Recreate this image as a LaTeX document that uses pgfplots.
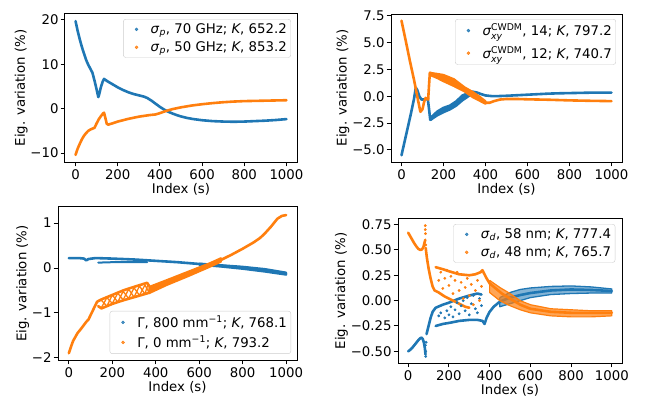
\documentclass[border=0pt]{standalone}
\usepackage{fontspec}
\setmainfont{DejaVu Sans}
\usepackage{pgfplots}
\pgfplotsset{compat=1.18}
\definecolor{tabblue}{HTML}{1F77B4}
\definecolor{taborange}{HTML}{FF7F0E}
\newcommand{\fs}{\fontsize{13.3}{15.5}\selectfont}
\newcommand{\scfs}{\fontsize{9.3}{10}\selectfont}
\newcommand{\cwdm}{$\textit{σ}^{\mbox{\scfs CWDM}}_{\mbox{\scfs\itshape xy}}$}
\pgfplotsset{
  panel/.style={
    scale only axis, xmin=-50, xmax=1050,
    xtick={0,200,400,600,800,1000},
    xticklabels={0,200,400,600,800,1000},
    tick align=outside, tick pos=left,
    major tick length=4.4pt,
    every tick/.style={black, line width=1pt},
    axis line style={line width=1pt},
    tick label style={font=\fs},
    yticklabel style={xshift=1.5pt},
    label style={font=\fs},
    xlabel={Index (s)}, ylabel={Eig. variation (\%)},
    xlabel style={yshift=3pt},
    ylabel style={yshift=-4pt},
    legend cell align=left,
    legend style={font=\fs, draw=black!20, rounded corners=2.5pt, fill=white, fill opacity=0.8, text opacity=1,
      inner xsep=2pt, inner ysep=2.5pt, row sep=2.5pt},
  },
  cur/.style={no marks, line width=2.6pt, line join=round, line cap=round},
  thin/.style={no marks, line width=1.3pt, line join=round, line cap=round},
  band/.style={no marks, line width=2pt, line join=round},
  dots/.style={only marks, mark=*, mark size=1.2pt},
  bimg/.style={legend image code/.code={\path (-3pt,0) (20pt,0); \fill[tabblue] (8pt,0) circle (1.5pt);}},
  oimg/.style={legend image code/.code={\path (-3pt,0) (20pt,0); \fill[taborange] (8pt,0) circle (1.5pt);}},
}
\begin{document}
\begin{tikzpicture}
\useasboundingbox (0,0) rectangle (646pt,397pt);
% ---------------- top left
\begin{axis}[panel, at={(65pt,235pt)}, anchor=south west, width=232pt, height=148pt,
  ymin=-12, ymax=21.3, ytick={-10,0,10,20}, yticklabels={−10,0,10,20},
  legend style={at={(0.974,0.966)}, anchor=north east}]
\addlegendimage{bimg}\addlegendentry{\textit{σ}\textsubscript{\textit{p}}, 70 GHz; \textit{K}, 652.2}
\addlegendimage{oimg}\addlegendentry{\textit{σ}\textsubscript{\textit{p}}, 50 GHz; \textit{K}, 853.2}
\addplot[cur, tabblue] coordinates {(0,19.7)(10,17.5)(20,15.6)(30,13.9)(40,12.4)(50,11.0)(60,9.9)(70,9.0)(80,8.1)(90,6.3)(100,4.3)(108,2.6)(112,3.2)(120,4.8)(128,6.0)(135,6.7)(150,6.2)(175,5.5)(200,4.8)(225,4.2)(250,3.7)(275,3.3)(300,3.0)(325,2.7)(340,2.4)(360,1.8)(380,1.1)(400,0.4)(420,-0.2)(440,-0.7)(460,-1.1)(480,-1.45)(500,-1.75)(530,-2.1)(560,-2.35)(600,-2.6)(650,-2.8)(700,-2.9)(750,-2.95)(800,-2.9)(850,-2.8)(900,-2.7)(950,-2.55)(1000,-2.35)};
\addplot[cur, taborange] coordinates {(0,-10.4)(10,-9.0)(20,-7.9)(30,-6.9)(40,-6.1)(50,-5.5)(60,-5.0)(70,-4.7)(80,-4.5)(90,-4.3)(100,-3.3)(110,-2.4)(120,-1.7)(130,-1.1)(135,-0.9)(140,-1.8)(148,-3.4)(155,-3.6)(175,-3.3)(200,-2.9)(250,-2.3)(300,-1.8)(350,-1.45)(380,-1.3)(400,-1.0)(430,-0.5)(460,-0.1)(500,0.3)(550,0.7)(600,1.0)(650,1.25)(700,1.45)(750,1.6)(800,1.7)(850,1.75)(900,1.8)(950,1.85)(1000,1.9)};
\end{axis}
% ---------------- top right
\begin{axis}[panel, at={(391pt,235pt)}, anchor=south west, width=231pt, height=148pt,
  ymin=-6.13, ymax=7.68, ytick={-5,-2.5,0,2.5,5,7.5}, yticklabels={−5.0,−2.5,0.0,2.5,5.0,7.5},
  legend style={at={(0.974,0.966)}, anchor=north east, row sep=5pt}]
\addlegendimage{bimg}\addlegendentry{\cwdm, 14; \textit{K}, 797.2}
\addlegendimage{oimg}\addlegendentry{\cwdm, 12; \textit{K}, 740.7}
\addplot[cur, tabblue] coordinates {(0,-5.5)(15,-4.2)(30,-2.9)(45,-1.6)(60,-0.2)(68,0.8)(75,0.6)(85,0.0)(95,-0.3)(110,-0.3)(125,-0.2)(130,-1.0)(137,-2.2)(150,-1.95)(175,-1.6)(200,-1.25)(230,-0.95)(260,-0.6)(290,-0.15)(320,0.3)(340,0.42)(360,0.35)(380,0.2)(400,0.08)(430,0.02)(460,0.02)(500,0.05)(550,0.1)(600,0.15)(650,0.2)(700,0.25)(750,0.28)(800,0.3)(850,0.32)(900,0.34)(950,0.35)(1000,0.35)};
\addplot[band, tabblue, fill=tabblue] coordinates {(137,-2.0)(170,-1.4)(200,-1.05)(230,-0.85)(260,-0.45)(290,0.1)(320,0.35)(340,0.45)(340,0.3)(320,0.0)(290,-0.4)(260,-0.9)(230,-1.25)(200,-1.5)(170,-1.8)(140,-2.2)(137,-2.0)};
\addplot[cur, taborange] coordinates {(0,7.05)(20,5.2)(40,3.3)(60,1.5)(80,-0.5)(90,-1.45)(100,-1.2)(108,-0.5)(115,-0.15)(122,-0.25)(127,-0.3)(131,1.0)(135,2.2)(160,2.0)(200,1.75)(250,1.3)(300,0.7)(340,0.2)(370,-0.2)(400,-0.6)(420,-0.6)(440,-0.45)(470,-0.3)(500,-0.25)(550,-0.25)(600,-0.28)(700,-0.32)(800,-0.38)(900,-0.42)(1000,-0.45)};
\addplot[band, taborange, fill=taborange] coordinates {(135,2.2)(170,2.1)(200,2.0)(250,1.6)(300,0.85)(340,0.4)(370,0.0)(400,-0.45)(400,-0.7)(370,-0.4)(340,-0.1)(300,0.45)(250,0.95)(200,1.4)(170,1.7)(140,1.95)(135,2.2)};
\end{axis}
% ---------------- bottom left
\begin{axis}[panel, at={(58pt,37pt)}, anchor=south west, width=239pt, height=153pt,
  ymin=-2.05, ymax=1.36, ytick={-2,-1,0,1}, yticklabels={−2,−1,0,1},
  legend style={at={(0.975,0.04)}, anchor=south east}]
\addlegendimage{bimg}\addlegendentry{Γ, 800 mm\textsuperscript{−1}; \textit{K}, 768.1}
\addlegendimage{oimg}\addlegendentry{Γ, 0 mm\textsuperscript{−1}; \textit{K}, 793.2}
\addplot[cur, tabblue] coordinates {(0,0.22)(50,0.22)(70,0.21)(80,0.17)(90,0.2)(120,0.22)(135,0.22)(200,0.21)(300,0.19)(400,0.16)(500,0.13)(600,0.09)(700,0.05)(800,0.01)(900,-0.05)(1000,-0.13)};
\addplot[thin, tabblue, line width=2pt] coordinates {(135,0.12)(200,0.13)(300,0.13)(360,0.13)};
\addplot[band, tabblue, fill=tabblue] coordinates {(600,0.1)(700,0.065)(800,0.03)(900,-0.02)(1000,-0.1)(1000,-0.15)(900,-0.08)(800,-0.02)(700,0.03)(600,0.07)(600,0.1)};
\addplot[cur, taborange] coordinates {(0,-1.9)(10,-1.75)(20,-1.62)(40,-1.45)(60,-1.33)(80,-1.2)(90,-1.15)(100,-1.05)(115,-0.9)(130,-0.75)(150,-0.7)(200,-0.6)(250,-0.5)(300,-0.42)(340,-0.36)(360,-0.33)(370,-0.4)};
\addplot[cur, taborange] coordinates {(135,-0.85)(150,-0.9)(200,-0.8)(250,-0.72)(300,-0.65)(350,-0.58)(370,-0.55)};
\addplot[thin, taborange] coordinates {(150,-0.88)(175,-0.66)(200,-0.79)(225,-0.56)(250,-0.71)(275,-0.47)(300,-0.65)(325,-0.4)(350,-0.58)(365,-0.35)};
\addplot[thin, taborange] coordinates {(150,-0.72)(175,-0.85)(200,-0.6)(225,-0.76)(250,-0.52)(275,-0.68)(300,-0.44)(325,-0.61)(350,-0.38)(370,-0.55)};
\addplot[cur, taborange] coordinates {(370,-0.5)(400,-0.42)(450,-0.33)(500,-0.23)(550,-0.13)(600,-0.03)(650,0.07)(700,0.18)(750,0.3)(800,0.43)(850,0.57)(880,0.67)(900,0.76)(930,0.92)(960,1.1)(980,1.16)(1000,1.18)};
\addplot[band, taborange, fill=taborange] coordinates {(370,-0.42)(450,-0.27)(550,-0.08)(650,0.11)(700,0.22)(700,0.14)(650,0.03)(550,-0.18)(450,-0.38)(370,-0.56)(370,-0.42)};
\end{axis}
% ---------------- bottom right
\begin{axis}[panel, at={(398pt,34pt)}, anchor=south west, width=224pt, height=144pt,
  ymin=-0.615, ymax=0.805, ytick={-0.5,-0.25,0,0.25,0.5,0.75}, yticklabels={−0.50,−0.25,0.00,0.25,0.50,0.75},
  legend style={at={(0.97,0.965)}, anchor=north east}]
\addlegendimage{bimg}\addlegendentry{\textit{σ}\textsubscript{\textit{d}}, 58 nm; \textit{K}, 777.4}
\addlegendimage{oimg}\addlegendentry{\textit{σ}\textsubscript{\textit{d}}, 48 nm; \textit{K}, 765.7}
\addplot[cur, tabblue] coordinates {(0,-0.5)(10,-0.485)(20,-0.465)(30,-0.44)(40,-0.415)(50,-0.39)(60,-0.37)(66,-0.365)(72,-0.38)(78,-0.42)(82,-0.47)(85,-0.53)};
\addplot[dots, tabblue] coordinates {(85,-0.44)(86,-0.5)(86,-0.55)(88,-0.41)};
\addplot[cur, tabblue] coordinates {(90,-0.33)(100,-0.25)(110,-0.17)(120,-0.11)(135,-0.07)(170,-0.04)(200,-0.02)(250,0.02)(300,0.05)(340,0.07)(360,0.06)};
\addplot[cur, tabblue] coordinates {(135,-0.25)(170,-0.23)(200,-0.22)(250,-0.2)(300,-0.19)(340,-0.19)(365,-0.2)(375,-0.23)(385,-0.17)(400,-0.11)(420,-0.06)(450,-0.01)(500,0.03)(550,0.055)(600,0.075)(700,0.1)(800,0.11)(900,0.105)(1000,0.095)};
\addplot[band, tabblue, fill=tabblue, fill opacity=0.55, line width=1.3pt] coordinates {(450,0.03)(500,0.08)(550,0.11)(600,0.125)(700,0.14)(800,0.145)(900,0.135)(1000,0.115)(1000,0.075)(900,0.075)(800,0.07)(700,0.06)(600,0.03)(550,0.0)(500,-0.03)(450,-0.06)(450,0.03)};
\addplot[dots, tabblue] coordinates {(150,-0.15)(160,-0.12)(180,-0.17)(190,-0.1)(200,-0.14)(210,-0.06)(220,-0.16)(230,-0.09)(240,-0.02)(250,-0.13)(260,-0.05)(270,0.0)(280,-0.1)(290,0.03)(300,-0.14)(310,-0.03)(320,0.05)(330,-0.08)(340,-0.12)(350,0.02)(360,-0.05)};
\addplot[cur, taborange] coordinates {(0,0.67)(10,0.635)(20,0.6)(30,0.565)(40,0.535)(50,0.51)(60,0.5)(68,0.505)(75,0.53)(80,0.57)(84,0.6)};
\addplot[dots, taborange] coordinates {(84,0.74)(84,0.7)(85,0.66)(86,0.55)};
\addplot[cur, taborange] coordinates {(86,0.52)(92,0.42)(100,0.32)(110,0.22)(120,0.14)(130,0.1)(150,0.08)(180,0.04)(220,0.0)(250,-0.03)(280,-0.06)(300,-0.07)};
\addplot[cur, taborange] coordinates {(135,0.33)(170,0.31)(200,0.29)(250,0.26)(300,0.25)(330,0.26)(355,0.28)(365,0.3)(372,0.27)(385,0.22)(400,0.17)(430,0.12)(460,0.07)(500,0.02)(550,-0.04)(600,-0.08)(700,-0.11)(800,-0.12)(900,-0.12)(1000,-0.12)};
\addplot[band, taborange, fill=taborange, fill opacity=0.7, line width=1.2pt] coordinates {(400,0.2)(450,0.13)(500,0.07)(550,0.0)(600,-0.04)(700,-0.08)(800,-0.09)(900,-0.1)(1000,-0.1)(1000,-0.15)(900,-0.16)(800,-0.16)(700,-0.15)(600,-0.12)(550,-0.09)(500,-0.05)(450,0.0)(400,0.08)(400,0.2)};
\addplot[dots, taborange] coordinates {(150,0.2)(160,0.28)(170,0.12)(180,0.22)(190,0.3)(200,0.15)(210,0.24)(220,0.07)(230,0.2)(240,0.28)(250,0.1)(260,0.18)(270,0.02)(280,0.13)(290,0.22)(300,0.05)(310,0.16)(320,-0.04)(330,0.1)(340,0.2)(350,0.0)(360,0.14)};
\end{axis}
\end{tikzpicture}
\end{document}
